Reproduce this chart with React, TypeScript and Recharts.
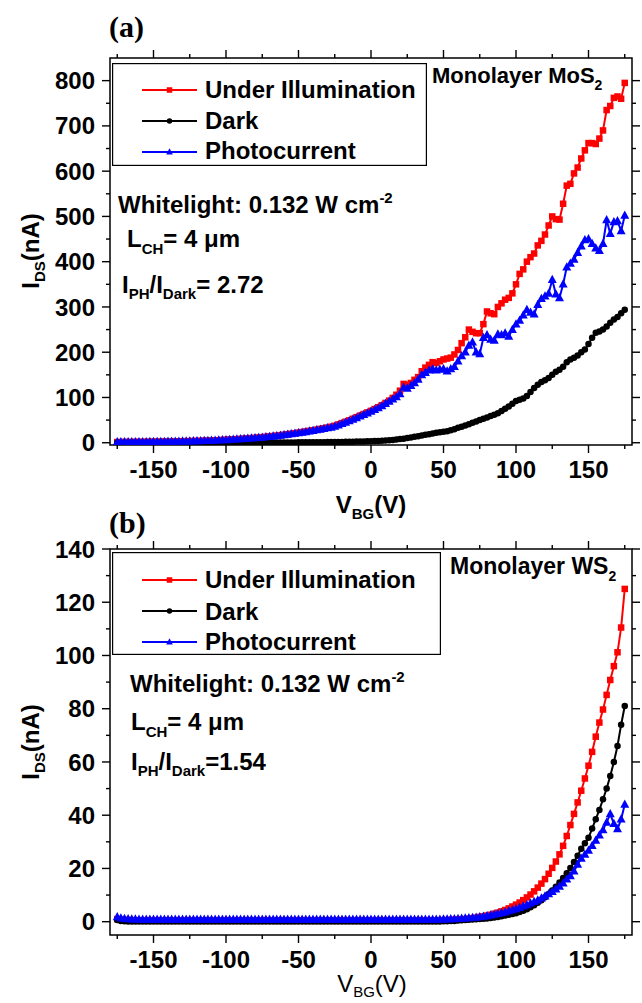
import { LineChart, Line, XAxis, YAxis, ReferenceArea, Legend } from 'recharts';

const FONT = '"Liberation Sans", Arial, Helvetica, sans-serif';
const SERIF = '"Liberation Serif", "Times New Roman", serif';

// back-gate sweep (V), shared by every series
const vbg = [
  -175, -172.5, -170, -167.5, -165, -162.5, -160, -157.5, -155, -152.5,
  -150, -147.5, -145, -142.5, -140, -137.5, -135, -132.5, -130, -127.5,
  -125, -122.5, -120, -117.5, -115, -112.5, -110, -107.5, -105, -102.5,
  -100, -97.5, -95, -92.5, -90, -87.5, -85, -82.5, -80, -77.5,
  -75, -72.5, -70, -67.5, -65, -62.5, -60, -57.5, -55, -52.5,
  -50, -47.5, -45, -42.5, -40, -37.5, -35, -32.5, -30, -27.5,
  -25, -22.5, -20, -17.5, -15, -12.5, -10, -7.5, -5, -2.5,
  0, 2.5, 5, 7.5, 10, 12.5, 15, 17.5, 20, 22.5,
  25, 27.5, 30, 32.5, 35, 37.5, 40, 42.5, 45, 47.5,
  50, 52.5, 55, 57.5, 60, 62.5, 65, 67.5, 70, 72.5,
  75, 77.5, 80, 82.5, 85, 87.5, 90, 92.5, 95, 97.5,
  100, 102.5, 105, 107.5, 110, 112.5, 115, 117.5, 120, 122.5,
  125, 127.5, 130, 132.5, 135, 137.5, 140, 142.5, 145, 147.5,
  150, 152.5, 155, 157.5, 160, 162.5, 165, 167.5, 170, 172.5,
  175,
];

// (a) monolayer MoS2, I_DS in nA
const mosIllum = [
  1.5, 1.5, 1.6, 1.6, 1.7, 1.8, 1.8, 1.9, 2.0, 2.1,
  2.2, 2.3, 2.4, 2.5, 2.6, 2.8, 2.9, 3.0, 3.2, 3.4,
  3.6, 3.8, 4.0, 4.2, 4.4, 4.7, 5.0, 5.3, 5.6, 6.0,
  6.6, 7.0, 7.4, 7.9, 8.4, 8.9, 9.5, 10.1, 10.8, 11.5,
  12.3, 13.1, 13.9, 14.8, 15.7, 16.7, 17.7, 18.8, 19.9, 21.1,
  22.4, 23.6, 24.9, 26.2, 27.6, 29.0, 30.5, 32.0, 33.6, 35.3,
  37.5, 40.5, 43.5, 46.5, 49.5, 53, 56.5, 60, 63.5, 67,
  70.5, 74.5, 78.5, 83, 88, 93, 99, 106, 115, 130,
  128, 132, 139, 145, 158, 166, 172, 178, 176, 180,
  184, 186, 188, 195, 205, 220, 233, 250, 245, 242,
  242, 262, 290, 286, 284, 300, 308, 316, 320, 330,
  350, 373, 383, 400, 410, 418, 436, 446, 460, 480,
  500, 494, 493, 528, 568, 572, 595, 608, 628, 646,
  662, 662, 660, 672, 690, 735, 744, 762, 765, 760,
  795,
];

const mosDark = [
  0.2, 0.2, 0.2, 0.2, 0.2, 0.2, 0.2, 0.2, 0.2, 0.2,
  0.2, 0.2, 0.2, 0.2, 0.2, 0.2, 0.2, 0.2, 0.2, 0.2,
  0.2, 0.2, 0.2, 0.2, 0.2, 0.2, 0.2, 0.2, 0.2, 0.2,
  0.3, 0.3, 0.3, 0.3, 0.3, 0.3, 0.3, 0.3, 0.3, 0.3,
  0.4, 0.4, 0.5, 0.5, 0.5, 0.6, 0.6, 0.6, 0.7, 0.7,
  0.8, 0.8, 0.9, 1.0, 1.0, 1.1, 1.2, 1.3, 1.4, 1.5,
  1.6, 1.7, 1.8, 2.0, 2.1, 2.3, 2.5, 2.7, 2.9, 3.1,
  3.4, 3.7, 4.1, 4.5, 5.0, 5.6, 6.3, 7.0, 8.0, 9.0,
  10.2, 11.5, 13, 14.5, 16, 17.5, 19, 20.5, 22, 23,
  24, 25.5, 27.5, 30, 33, 35.5, 38, 41, 44, 47,
  50, 53, 56, 59, 62, 65, 70, 75, 80, 86,
  92, 95, 98, 103, 112, 121, 128, 134, 138, 143,
  150, 157, 161, 168, 178, 184, 188, 193, 200, 206,
  218, 232, 243, 246, 250, 257, 265, 272, 278, 286,
  294,
];

const mosPhoto = [
  1.5, 1.5, 1.6, 1.6, 1.7, 1.8, 1.8, 1.9, 2.0, 2.1,
  2.2, 2.3, 2.4, 2.5, 2.6, 2.8, 2.9, 3.0, 3.2, 3.4,
  3.6, 3.8, 4.0, 4.2, 4.4, 4.7, 5.0, 5.3, 5.6, 6.0,
  6.4, 6.8, 7.2, 7.7, 8.2, 8.7, 9.3, 9.9, 10.5, 11.2,
  11.9, 12.7, 13.5, 14.3, 15.2, 16.1, 17.1, 18.1, 19.2, 20.4,
  21.6, 22.8, 24.0, 25.3, 26.6, 28.0, 29.4, 30.9, 32.4, 34.0,
  36, 39, 42, 45, 48, 51.5, 55, 58.5, 62, 65.5,
  69, 73, 77, 81, 86, 91, 96, 101, 108, 122,
  120, 126, 132, 140, 150, 155, 160, 163, 160, 162,
  163, 158, 163, 168, 180, 192, 200, 215, 222, 200,
  196, 232, 238, 228, 226, 240, 238, 242, 235, 250,
  262, 270, 282, 294, 288, 284, 305, 318, 324, 330,
  360, 328, 320, 350, 388, 396, 405, 420, 434, 448,
  450, 440, 430, 424, 440, 492, 462, 488, 490, 468,
  502,
];

// (b) monolayer WS2, I_DS in nA
const wsIllum = [
  1.0, 0.8, 0.7, 0.6, 0.6, 0.5, 0.5, 0.5, 0.5, 0.5,
  0.5, 0.5, 0.5, 0.5, 0.5, 0.5, 0.5, 0.5, 0.5, 0.5,
  0.5, 0.5, 0.5, 0.5, 0.5, 0.5, 0.5, 0.5, 0.5, 0.5,
  0.5, 0.5, 0.5, 0.5, 0.5, 0.5, 0.5, 0.5, 0.5, 0.5,
  0.5, 0.5, 0.5, 0.5, 0.5, 0.5, 0.5, 0.5, 0.5, 0.5,
  0.5, 0.5, 0.5, 0.5, 0.5, 0.5, 0.5, 0.5, 0.5, 0.5,
  0.5, 0.5, 0.5, 0.5, 0.5, 0.5, 0.5, 0.5, 0.5, 0.5,
  0.5, 0.5, 0.5, 0.5, 0.5, 0.5, 0.5, 0.5, 0.5, 0.5,
  0.5, 0.5, 0.5, 0.5, 0.5, 0.5, 0.5, 0.5, 0.5, 0.5,
  0.6, 0.6, 0.7, 0.7, 0.8, 0.9, 1.0, 1.1, 1.3, 1.5,
  1.8, 2.0, 2.3, 2.6, 3.0, 3.4, 3.9, 4.4, 5.0, 5.7,
  6.4, 7.2, 8.1, 9.1, 10.2, 11.4, 12.8, 14.3, 16.0, 18.0,
  20.2, 22.6, 25.3, 28.5, 32.2, 36.3, 40.5, 44.8, 49.2, 53.8,
  58.6, 63.8, 69.5, 74.8, 79.7, 85.2, 90.8, 96.0, 101.2, 110.5,
  125,
];

const wsDark = [
  0.6, 0.3, 0.2, 0.1, 0.1, 0.1, 0.1, 0.1, 0.1, 0.1,
  0.1, 0.1, 0.1, 0.1, 0.1, 0.1, 0.1, 0.1, 0.1, 0.1,
  0.1, 0.1, 0.1, 0.1, 0.1, 0.1, 0.1, 0.1, 0.1, 0.1,
  0.1, 0.1, 0.1, 0.1, 0.1, 0.1, 0.1, 0.1, 0.1, 0.1,
  0.1, 0.1, 0.1, 0.1, 0.1, 0.1, 0.1, 0.1, 0.1, 0.1,
  0.1, 0.1, 0.1, 0.1, 0.1, 0.1, 0.1, 0.1, 0.1, 0.1,
  0.1, 0.1, 0.1, 0.1, 0.1, 0.1, 0.1, 0.1, 0.1, 0.1,
  0.1, 0.1, 0.1, 0.1, 0.1, 0.1, 0.1, 0.1, 0.1, 0.1,
  0.1, 0.1, 0.1, 0.1, 0.1, 0.1, 0.1, 0.1, 0.1, 0.1,
  0.2, 0.2, 0.3, 0.3, 0.4, 0.5, 0.6, 0.7, 0.8, 0.9,
  1.0, 1.1, 1.2, 1.4, 1.6, 1.8, 2.0, 2.3, 2.6, 2.9,
  3.2, 3.6, 4.1, 4.7, 5.4, 6.2, 7.1, 8.1, 9.2, 10.4,
  11.7, 13.1, 14.7, 16.4, 18.2, 20.2, 22.4, 24.8, 27.4, 29.5,
  31.5, 35, 38.5, 42, 46, 50, 54.7, 60, 66, 74,
  81,
];

const wsPhoto = [
  1.8, 1.3, 1.1, 1.0, 0.9, 0.9, 0.8, 0.8, 0.8, 0.8,
  0.8, 0.8, 0.8, 0.8, 0.8, 0.8, 0.8, 0.8, 0.8, 0.8,
  0.8, 0.8, 0.8, 0.8, 0.8, 0.8, 0.8, 0.8, 0.8, 0.8,
  0.8, 0.8, 0.8, 0.8, 0.8, 0.8, 0.8, 0.8, 0.8, 0.8,
  0.8, 0.8, 0.8, 0.8, 0.8, 0.8, 0.8, 0.8, 0.8, 0.8,
  0.8, 0.8, 0.8, 0.8, 0.8, 0.8, 0.8, 0.8, 0.8, 0.8,
  0.8, 0.8, 0.8, 0.8, 0.8, 0.8, 0.8, 0.8, 0.8, 0.8,
  0.8, 0.8, 0.8, 0.8, 0.8, 0.8, 0.8, 0.8, 0.8, 0.8,
  0.8, 0.8, 0.8, 0.8, 0.8, 0.8, 0.8, 0.8, 0.8, 0.8,
  0.9, 0.9, 1.0, 1.0, 1.1, 1.2, 1.3, 1.4, 1.5, 1.6,
  1.8, 2.0, 2.2, 2.4, 2.7, 3.0, 3.3, 3.6, 4.0, 4.4,
  4.8, 5.3, 5.8, 6.3, 6.9, 7.5, 8.1, 8.8, 9.6, 10.4,
  11.3, 12.2, 13.2, 14.5, 16.0, 17.2, 19.0, 21.5, 23.8, 25.3,
  26.8, 28.5, 30.5, 32.5, 34.5, 37.3, 40.5, 36.8, 34.8, 38.5,
  44,
];

const xTicks = [-175, -150, -125, -100, -75, -50, -25, 0, 25, 50, 75, 100, 125, 150, 175];
const mosYTicks = [0, 50, 100, 150, 200, 250, 300, 350, 400, 450, 500, 550, 600, 650, 700, 750, 800];
const wsYTicks = [0, 10, 20, 30, 40, 50, 60, 70, 80, 90, 100, 110, 120, 130, 140];

const legendLabels = ['Under Illumination', 'Dark', 'Photocurrent'];
const seriesColors = ['#ff0000', '#000000', '#0000ff'];

type Row = { v: number; illum: number; dark: number; photo: number };

const buildRows = (illum: number[], dark: number[], photo: number[]): Row[] =>
  vbg.map((v, i) => ({ v, illum: illum[i], dark: dark[i], photo: photo[i] }));

const mosRows = buildRows(mosIllum, mosDark, mosPhoto);
const wsRows = buildRows(wsIllum, wsDark, wsPhoto);

const PLOT_RIGHT = 632;

// kind 0 = square, 1 = circle, 2 = triangle
const markerShape = (kind: number, cx: number, cy: number, color: string, s: number, key?: string) => {
  if (kind === 0) {
    return <rect key={key} x={cx - s / 2} y={cy - s / 2} width={s} height={s} fill={color} />;
  }
  if (kind === 1) {
    return <circle key={key} cx={cx} cy={cy} r={s / 2} fill={color} />;
  }
  const h = s * 1.1;
  return (
    <path
      key={key}
      d={`M${cx},${cy - h * 0.6}L${cx + s * 0.6},${cy + h * 0.4}L${cx - s * 0.6},${cy + h * 0.4}Z`}
      fill={color}
    />
  );
};

const makeDot = (kind: number, size: number) => (props: any) => {
  const { cx, cy, index } = props;
  if (cx == null || cy == null) return <g key={`e${index}`} />;
  return markerShape(kind, cx, cy, seriesColors[kind], size, `d${kind}-${index}`);
};

const makeXTick = (plotTop: number) => (props: any) => {
  const { x, y, payload } = props;
  const v = payload.value as number;
  const major = v % 50 === 0;
  const len = major ? 8 : 4;
  return (
    <g key={`xt${v}`}>
      <line x1={x} y1={y} x2={x} y2={y + len} stroke="#000" strokeWidth={1.4} />
      <line x1={x} y1={plotTop} x2={x} y2={plotTop - len} stroke="#000" strokeWidth={1.4} />
      {major && (
        <text x={x} y={y + 33} textAnchor="middle" fontFamily={FONT} fontWeight="bold" fontSize={24} fill="#000">
          {v}
        </text>
      )}
    </g>
  );
};

const makeYTick = (majorStep: number) => (props: any) => {
  const { x, y, payload } = props;
  const v = payload.value as number;
  const major = v % majorStep === 0;
  const len = major ? 8 : 4;
  return (
    <g key={`yt${v}`}>
      <line x1={x - len} y1={y} x2={x} y2={y} stroke="#000" strokeWidth={1.4} />
      <line x1={PLOT_RIGHT} y1={y} x2={PLOT_RIGHT + len} y2={y} stroke="#000" strokeWidth={1.4} />
      {major && (
        <text x={x - 15} y={y + 8.6} textAnchor="end" fontFamily={FONT} fontWeight="bold" fontSize={24} fill="#000">
          {v}
        </text>
      )}
    </g>
  );
};

interface LegendBoxProps {
  width: number;
  height: number;
  lineY: number[];
  textY: number[];
}

const LegendBox = ({ width, height, lineY, textY }: LegendBoxProps) => (
  <svg width={width} height={height} style={{ display: 'block' }}>
    <rect x={0.6} y={0.6} width={width - 1.2} height={height - 1.2} fill="#fff" stroke="#000" strokeWidth={1.2} />
    {legendLabels.map((label, i) => (
      <g key={label}>
        <line x1={30} x2={85} y1={lineY[i]} y2={lineY[i]} stroke={seriesColors[i]} strokeWidth={1.8} />
        {markerShape(i, 57.5, lineY[i], seriesColors[i], 5.5)}
        <text x={93} y={textY[i]} fontFamily={FONT} fontWeight="bold" fontSize={24} fill="#000">
          {label}
        </text>
      </g>
    ))}
  </svg>
);

interface PanelProps {
  top: number;
  height: number;
  marginTop: number;
  marginBottom: number;
  rows: Row[];
  yDomain: [number, number];
  yTicks: number[];
  yMajor: number;
  legendLeft: number;
  legendTop: number;
  legendWidth: number;
  legendHeight: number;
  legendLineY: number[];
  legendTextY: number[];
}

const Panel = (p: PanelProps) => (
  <div style={{ position: 'absolute', left: 0, top: p.top, width: 642, height: p.height }}>
    <LineChart
      width={642}
      height={p.height}
      data={p.rows}
      margin={{ top: p.marginTop, right: 10, bottom: p.marginBottom, left: 100 }}
    >
      <XAxis
        dataKey="v"
        type="number"
        domain={[-180, 180]}
        ticks={xTicks}
        interval={0}
        height={10}
        tickSize={0}
        tickMargin={0}
        tickLine={false}
        axisLine={false}
        allowDataOverflow
        tick={makeXTick(p.marginTop)}
      />
      <YAxis
        type="number"
        domain={p.yDomain}
        ticks={p.yTicks}
        interval={0}
        width={10}
        tickSize={0}
        tickMargin={0}
        tickLine={false}
        axisLine={false}
        allowDataOverflow
        tick={makeYTick(p.yMajor)}
      />
      <ReferenceArea
        x1={-180}
        x2={180}
        y1={p.yDomain[0]}
        y2={p.yDomain[1]}
        fill="none"
        stroke="#000"
        strokeWidth={1.5}
      />
      <Line
        dataKey="illum"
        stroke={seriesColors[0]}
        strokeWidth={2}
        dot={makeDot(0, 6.5)}
        activeDot={false}
        isAnimationActive={false}
      />
      <Line
        dataKey="dark"
        stroke={seriesColors[1]}
        strokeWidth={2}
        dot={makeDot(1, 6.5)}
        activeDot={false}
        isAnimationActive={false}
      />
      <Line
        dataKey="photo"
        stroke={seriesColors[2]}
        strokeWidth={2}
        dot={makeDot(2, 7.5)}
        activeDot={false}
        isAnimationActive={false}
      />
      <Legend
        layout="horizontal"
        verticalAlign="middle"
        align="center"
        wrapperStyle={{ left: p.legendLeft, top: p.legendTop, width: p.legendWidth, height: p.legendHeight }}
        content={() => (
          <LegendBox width={p.legendWidth} height={p.legendHeight} lineY={p.legendLineY} textY={p.legendTextY} />
        )}
      />
    </LineChart>
  </div>
);

const bold = { fontFamily: FONT, fontWeight: 'bold' as const, fill: '#000' };

const Annotations = () => (
  <svg
    width={642}
    height={1003}
    style={{ position: 'absolute', left: 0, top: 0, pointerEvents: 'none' }}
  >
    {/* panel letters */}
    <text x={109} y={37} fontFamily={SERIF} fontWeight="bold" fontSize={30} fill="#000">(a)</text>
    <text x={109} y={533} fontFamily={SERIF} fontWeight="bold" fontSize={30} fill="#000">(b)</text>

    {/* (a) */}
    <text x={432} y={83} {...bold} fontSize={22}>
      Monolayer MoS<tspan dy={7} fontSize={14}>2</tspan>
    </text>
    <text x={118} y={213} {...bold} fontSize={24}>
      Whitelight: 0.132 W cm<tspan dy={-10} fontSize={15}>-2</tspan>
    </text>
    <text x={127} y={247} {...bold} fontSize={24}>
      L<tspan dy={7} fontSize={15}>CH</tspan><tspan dy={-7}>= 4 μm</tspan>
    </text>
    <text x={122} y={293} {...bold} fontSize={24}>
      I<tspan dy={6} fontSize={15}>PH</tspan><tspan dy={-6}>/I</tspan>
      <tspan dy={6} fontSize={15}>Dark</tspan><tspan dy={-6}>= 2.72</tspan>
    </text>
    <text x={39} y={251} transform="rotate(-90 39 251)" textAnchor="middle" {...bold} fontSize={24}>
      I<tspan dy={6} fontSize={15}>DS</tspan><tspan dy={-6}>(nA)</tspan>
    </text>
    <text x={371} y={513} textAnchor="middle" {...bold} fontSize={24}>
      V<tspan dy={6} fontSize={15}>BG</tspan><tspan dy={-6}>(V)</tspan>
    </text>

    {/* (b) */}
    <text x={450} y={574} {...bold} fontSize={23}>
      Monolayer WS<tspan dy={7} fontSize={14}>2</tspan>
    </text>
    <text x={130} y={692} {...bold} fontSize={24}>
      Whitelight: 0.132 W cm<tspan dy={-10} fontSize={15}>-2</tspan>
    </text>
    <text x={131} y={730} {...bold} fontSize={24}>
      L<tspan dy={7} fontSize={15}>CH</tspan><tspan dy={-7}>= 4 μm</tspan>
    </text>
    <text x={131} y={770} {...bold} fontSize={24}>
      I<tspan dy={6} fontSize={15}>PH</tspan><tspan dy={-6}>/I</tspan>
      <tspan dy={6} fontSize={15}>Dark</tspan><tspan dy={-6}>=1.54</tspan>
    </text>
    <text x={39} y={742} transform="rotate(-90 39 742)" textAnchor="middle" {...bold} fontSize={24}>
      I<tspan dy={6} fontSize={15}>DS</tspan><tspan dy={-6}>(nA)</tspan>
    </text>
    <text x={372} y={992} textAnchor="middle" fontFamily={FONT} fontSize={24} fill="#000">
      V<tspan dy={5} fontSize={15}>BG</tspan><tspan dy={-5}>(V)</tspan>
    </text>
  </svg>
);

export default function App() {
  return (
    <div style={{ position: 'absolute', left: 0, top: 0, width: 642, height: 1003, background: '#fff', overflow: 'hidden' }}>
      <Panel
        top={0}
        height={500}
        marginTop={58}
        marginBottom={45}
        rows={mosRows}
        yDomain={[-5, 850]}
        yTicks={mosYTicks}
        yMajor={100}
        legendLeft={112}
        legendTop={63}
        legendWidth={315}
        legendHeight={103}
        legendLineY={[27, 58, 89]}
        legendTextY={[35, 66, 96]}
      />
      <Panel
        top={500}
        height={503}
        marginTop={49}
        marginBottom={58}
        rows={wsRows}
        yDomain={[-5, 140]}
        yTicks={wsYTicks}
        yMajor={20}
        legendLeft={112}
        legendTop={52}
        legendWidth={329}
        legendHeight={103}
        legendLineY={[28, 59, 90]}
        legendTextY={[36, 68, 98]}
      />
      <Annotations />
    </div>
  );
}
